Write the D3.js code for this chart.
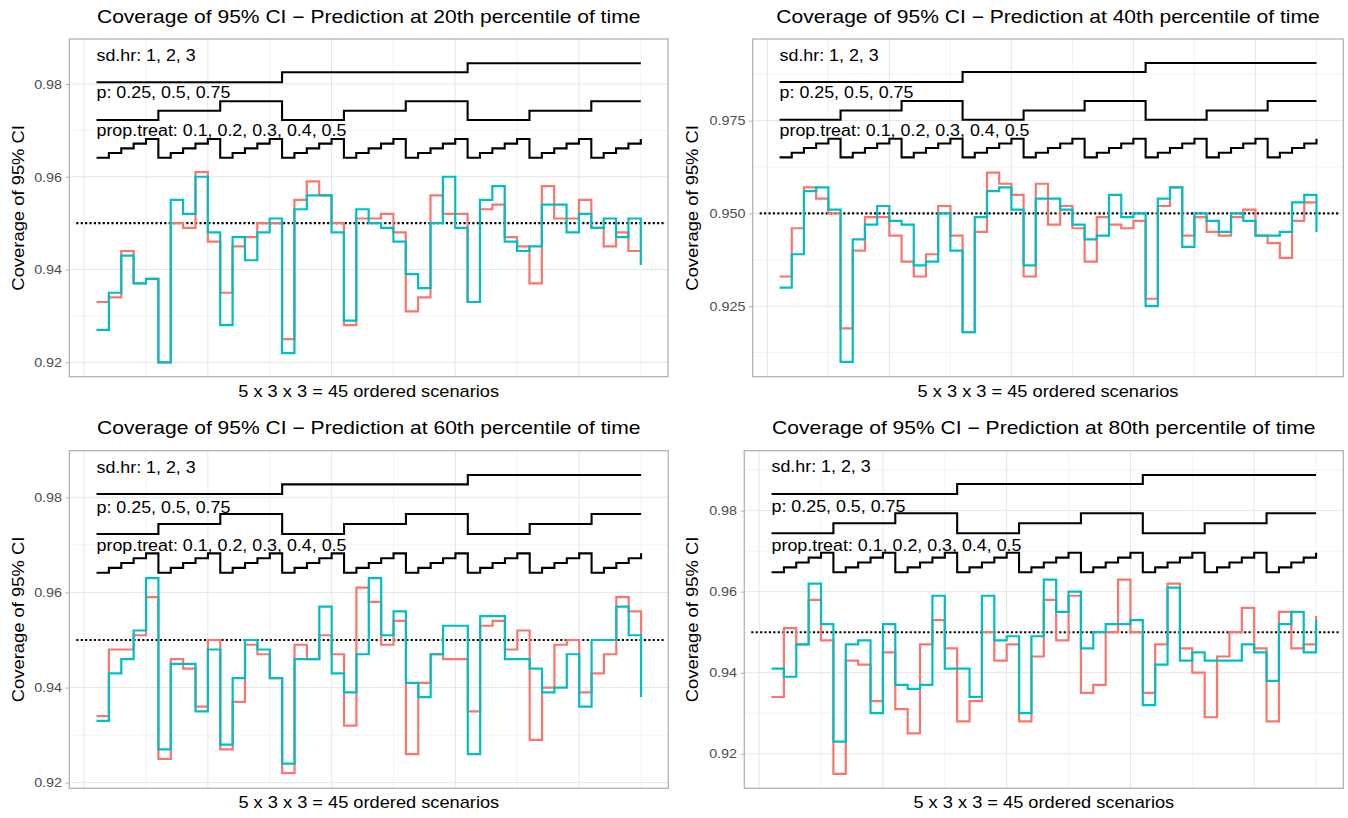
<!DOCTYPE html>
<html>
<head>
<meta charset="utf-8">
<script src="https://cdn.jsdelivr.net/npm/d3@7"></script>
<style>
  html, body { margin: 0; padding: 0; background: #ffffff; }
  svg { display: block; font-family: "Liberation Sans", Arial, sans-serif; }
</style>
</head>
<body>
<svg id="chart" width="1348" height="818"></svg>
<script>
// ---------------- DATA ----------------
const scenarios = d3.range(1, 46);
const panelTitles = [
  "Coverage of 95% CI \u2212 Prediction at 20th percentile of time",
  "Coverage of 95% CI \u2212 Prediction at 40th percentile of time",
  "Coverage of 95% CI \u2212 Prediction at 60th percentile of time",
  "Coverage of 95% CI \u2212 Prediction at 80th percentile of time"
];
const yAxisTitle = "Coverage of 95% CI";
const xAxisTitle = "5 x 3 x 3 = 45 ordered scenarios";
const paramLabels = ["sd.hr: 1, 2, 3", "p: 0.25, 0.5, 0.75", "prop.treat: 0.1, 0.2, 0.3, 0.4, 0.5"];
const referenceLine = 0.95;

// series values (red = method A, cyan = method B)
const red20  = [0.933,0.934,0.944,0.937,0.938,0.920,0.950,0.949,0.961,0.946,0.935,0.945,0.947,0.950,0.950,0.925,0.955,0.959,0.956,0.950,0.928,0.951,0.951,0.952,0.948,0.931,0.934,0.956,0.952,0.952,0.933,0.953,0.954,0.947,0.945,0.937,0.958,0.951,0.951,0.955,0.949,0.945,0.948,0.944,0.944];
const cyan20 = [0.927,0.935,0.943,0.937,0.938,0.920,0.955,0.952,0.960,0.948,0.928,0.947,0.942,0.948,0.951,0.922,0.953,0.956,0.956,0.948,0.929,0.953,0.950,0.949,0.946,0.939,0.936,0.950,0.960,0.949,0.933,0.955,0.958,0.946,0.944,0.945,0.954,0.954,0.948,0.952,0.949,0.951,0.947,0.951,0.941];
const red40  = [0.933,0.946,0.957,0.954,0.950,0.919,0.940,0.949,0.949,0.944,0.937,0.933,0.939,0.952,0.944,0.918,0.945,0.961,0.958,0.955,0.933,0.958,0.947,0.952,0.946,0.937,0.949,0.947,0.946,0.948,0.927,0.952,0.957,0.944,0.949,0.945,0.944,0.949,0.951,0.944,0.942,0.938,0.948,0.953,0.953];
const cyan40 = [0.930,0.939,0.956,0.957,0.951,0.910,0.943,0.947,0.952,0.948,0.947,0.936,0.937,0.950,0.940,0.918,0.949,0.956,0.957,0.951,0.936,0.954,0.954,0.951,0.947,0.943,0.944,0.955,0.949,0.950,0.925,0.954,0.957,0.941,0.950,0.948,0.945,0.950,0.948,0.944,0.944,0.945,0.953,0.955,0.945];
const red60  = [0.934,0.948,0.948,0.951,0.959,0.925,0.946,0.944,0.936,0.950,0.927,0.937,0.949,0.947,0.942,0.922,0.949,0.946,0.951,0.947,0.932,0.961,0.958,0.949,0.954,0.926,0.941,0.947,0.946,0.946,0.935,0.953,0.954,0.948,0.952,0.929,0.940,0.949,0.950,0.939,0.943,0.947,0.959,0.956,0.951];
const cyan60 = [0.933,0.943,0.946,0.952,0.963,0.927,0.945,0.945,0.935,0.948,0.928,0.942,0.950,0.948,0.942,0.924,0.946,0.946,0.957,0.943,0.939,0.947,0.963,0.951,0.956,0.941,0.938,0.947,0.953,0.953,0.926,0.955,0.955,0.946,0.946,0.944,0.939,0.940,0.947,0.936,0.950,0.950,0.957,0.951,0.938];
const red80  = [0.934,0.951,0.947,0.958,0.948,0.915,0.943,0.942,0.933,0.945,0.931,0.925,0.947,0.953,0.946,0.928,0.933,0.950,0.943,0.947,0.928,0.944,0.958,0.948,0.959,0.935,0.937,0.950,0.963,0.950,0.935,0.947,0.962,0.946,0.940,0.929,0.944,0.950,0.956,0.946,0.928,0.955,0.946,0.947,0.954];
const cyan80 = [0.941,0.939,0.947,0.962,0.952,0.923,0.947,0.948,0.930,0.952,0.937,0.936,0.937,0.959,0.941,0.941,0.934,0.959,0.948,0.949,0.930,0.949,0.963,0.955,0.960,0.946,0.950,0.952,0.952,0.953,0.932,0.942,0.961,0.943,0.945,0.943,0.943,0.943,0.947,0.945,0.938,0.952,0.955,0.945,0.953];

// nested-loop parameter levels drawn as step lines (in coverage units, per panel)
const sdhrLevels20 = [0.98037, 0.98252, 0.98446];
const pLevels20    = [0.97224, 0.97424, 0.97627];
const propLevels20 = [0.96411, 0.96512, 0.96613, 0.96714, 0.96814];
const sdhrLevels40 = [0.98540, 0.98809, 0.99052];
const pLevels40    = [0.97524, 0.97775, 0.98028];
const propLevels40 = [0.96509, 0.96635, 0.96761, 0.96886, 0.97012];
const sdhrLevels60 = [0.98069, 0.98273, 0.98469];
const pLevels60    = [0.97228, 0.97439, 0.97649];
const propLevels60 = [0.96414, 0.96516, 0.96618, 0.96720, 0.96822];
const sdhrLevels80 = [0.98412, 0.98659, 0.98881];
const pLevels80    = [0.97442, 0.97689, 0.97936];
const propLevels80 = [0.96479, 0.96600, 0.96721, 0.96842, 0.96963];

// y-axis ticks per panel
const yTicks20 = [0.92, 0.94, 0.96, 0.98];
const yTicks40 = [0.925, 0.950, 0.975];
const yTicks60 = [0.92, 0.94, 0.96, 0.98];
const yTicks80 = [0.92, 0.94, 0.96, 0.98];
const yDomain20 = [0.9169, 0.9897];
const yDomain40 = [0.9060, 0.9970];
const yDomain60 = [0.91882, 0.9898];
const yDomain80 = [0.91146, 0.99481];
const xDomain = [-1.2, 47.2];
const xMajor = [0, 10, 20, 30, 40];
const xMinor = [5, 15, 25, 35, 45];

// ---------------- LAYOUT ----------------
const panels = [
  {title: panelTitles[0], red: red20, cyan: cyan20, sd: sdhrLevels20, p: pLevels20, prop: propLevels20, ticks: yTicks20, dom: yDomain20, fmt: ".2f",
   left: 69.3, right: 668.0, top: 39, bottom: 376.7, yTitleX: 24},
  {title: panelTitles[1], red: red40, cyan: cyan40, sd: sdhrLevels40, p: pLevels40, prop: propLevels40, ticks: yTicks40, dom: yDomain40, fmt: ".3f",
   left: 752.7, right: 1343.3, top: 39, bottom: 376.7, yTitleX: 698},
  {title: panelTitles[2], red: red60, cyan: cyan60, sd: sdhrLevels60, p: pLevels60, prop: propLevels60, ticks: yTicks60, dom: yDomain60, fmt: ".2f",
   left: 69.3, right: 668.3, top: 450.7, bottom: 788.3, yTitleX: 24},
  {title: panelTitles[3], red: red80, cyan: cyan80, sd: sdhrLevels80, p: pLevels80, prop: propLevels80, ticks: yTicks80, dom: yDomain80, fmt: ".2f",
   left: 744.3, right: 1343.3, top: 450.7, bottom: 788.3, yTitleX: 698}
];

const RED = "#F8766D", CYAN = "#00BFC4";
const TEXT_SX = 1.14;   // glyph widening to match the reference rendering
const svg = d3.select("#chart");
svg.append("rect").attr("width", 1348).attr("height", 818).attr("fill", "#fff");

function label(parent, x, y, str, size, anchor, rot, sx) {
  const t = `translate(${x},${y})` + (rot ? ` rotate(${rot})` : "") + ` scale(${sx},1)`;
  return parent.append("text").attr("transform", t).attr("text-anchor", anchor)
    .attr("fill", "#000").style("font-size", size + "px").text(str);
}

panels.forEach(P => {
  const x = d3.scaleLinear().domain(xDomain).range([P.left, P.right]);
  const y = d3.scaleLinear().domain(P.dom).range([P.bottom, P.top]);
  const g = svg.append("g");

  // minor y grid: midpoints between ticks
  const step = P.ticks[1] - P.ticks[0];
  const yMinor = [];
  for (let v = P.ticks[0] - step / 2; v <= P.dom[1]; v += step) {
    if (v >= P.dom[0]) yMinor.push(v);
  }
  g.selectAll(".ymin").data(yMinor).join("line")
    .attr("x1", P.left).attr("x2", P.right)
    .attr("y1", d => y(d)).attr("y2", d => y(d))
    .attr("stroke", "#EFEFEF").attr("stroke-width", 0.8);
  g.selectAll(".xmin").data(xMinor).join("line")
    .attr("x1", d => x(d)).attr("x2", d => x(d))
    .attr("y1", P.top).attr("y2", P.bottom)
    .attr("stroke", "#EFEFEF").attr("stroke-width", 0.8);
  g.selectAll(".ymaj").data(P.ticks).join("line")
    .attr("x1", P.left).attr("x2", P.right)
    .attr("y1", d => y(d)).attr("y2", d => y(d))
    .attr("stroke", "#E6E6E6").attr("stroke-width", 1);
  g.selectAll(".xmaj").data(xMajor).join("line")
    .attr("x1", d => x(d)).attr("x2", d => x(d))
    .attr("y1", P.top).attr("y2", P.bottom)
    .attr("stroke", "#E6E6E6").attr("stroke-width", 1);

  // y axis (ticks + labels)
  const yAxis = d3.axisLeft(y).tickValues(P.ticks).tickFormat(d3.format(P.fmt))
    .tickSize(3.7).tickPadding(3);
  const ax = g.append("g").attr("transform", `translate(${P.left},0)`).call(yAxis);
  ax.select(".domain").remove();
  ax.selectAll(".tick line").attr("stroke", "#B3B3B3").attr("stroke-width", 1);
  ax.selectAll(".tick text").attr("fill", "#4D4D4D")
    .style("font-size", "13.3px").style("font-family", "'Liberation Sans', Arial, sans-serif")
    .attr("transform", "scale(1.08,1)");

  // parameter step lines
  const stepLine = d3.line().curve(d3.curveStepAfter).x(d => x(d.i)).y(d => y(d.v));
  const sdData   = scenarios.map(i => ({i, v: P.sd[Math.floor((i - 1) / 15)]}));
  const pData    = scenarios.map(i => ({i, v: P.p[Math.floor((i - 1) / 5) % 3]}));
  const propData = scenarios.map(i => ({i, v: P.prop[(i - 1) % 5]}));
  [sdData, pData, propData].forEach((dat, k) => {
    g.append("path").attr("d", stepLine(dat)).attr("fill", "none")
      .attr("stroke", "#000").attr("stroke-width", 2.1);
    label(g, x(1), y(dat[0].v) - 21.5, paramLabels[k], 15.8, "start", 0, 1.13);
  });

  // reference line
  g.append("line").attr("x1", P.left + 7).attr("x2", P.right - 3)
    .attr("y1", y(referenceLine)).attr("y2", y(referenceLine))
    .attr("stroke", "#000").attr("stroke-width", 2.1).attr("stroke-dasharray", "2.1,2.3");

  // data series
  [[P.red, RED], [P.cyan, CYAN]].forEach(([vals, col]) => {
    const dat = scenarios.map((i, k) => ({i, v: vals[k]}));
    g.append("path").attr("d", stepLine(dat)).attr("fill", "none")
      .attr("stroke", col).attr("stroke-width", 2.2);
  });

  // panel border
  g.append("rect").attr("x", P.left).attr("y", P.top)
    .attr("width", P.right - P.left).attr("height", P.bottom - P.top)
    .attr("fill", "none").attr("stroke", "#B3B3B3").attr("stroke-width", 1.3);

  // titles
  const cx = (P.left + P.right) / 2;
  label(g, cx, P.top - 16.5, P.title, 18, "middle", 0, 1.17);
  label(g, cx, P.bottom + 20, xAxisTitle, 16, "middle", 0, TEXT_SX);
  label(g, P.yTitleX, (P.top + P.bottom) / 2, yAxisTitle, 16, "middle", -90, 1.15);
});
</script>
</body>
</html>
